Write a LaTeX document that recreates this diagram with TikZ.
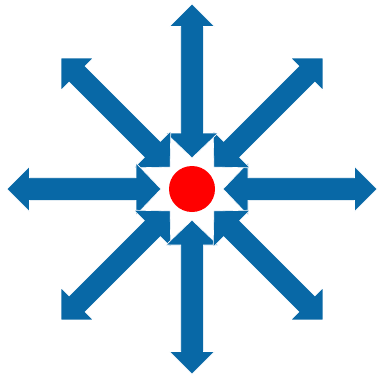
\documentclass[tikz,border=0pt]{standalone}
\usepackage{tikz}
\usetikzlibrary{positioning}
\definecolor{arrowblue}{RGB}{8,104,166}

\begin{document}
\begin{tikzpicture}[x=1pt, y=1pt,
  blockarrow/.style={fill=arrowblue, draw=white, line width=0.6pt, line join=miter},
  hub/.style={circle, fill=red, minimum size=46pt, inner sep=0pt}]

  \useasboundingbox (0,0) rectangle (382,376);
  \coordinate (c) at (192,187);

  % eight double-headed block arrows around the centre
  \foreach \ang in {0,45,...,315}{
    \path[blockarrow, shift={(c)}, rotate=\ang]
      (31,0) -- (56,26) -- (56,11.3) -- (162.5,11.3) -- (162.5,22.5) -- (185,0)
      -- (162.5,-22.5) -- (162.5,-11.3) -- (56,-11.3) -- (56,-26) -- cycle;
  }

  % red hub
  \node[hub] (hub) at (c) {};
\end{tikzpicture}
\end{document}
